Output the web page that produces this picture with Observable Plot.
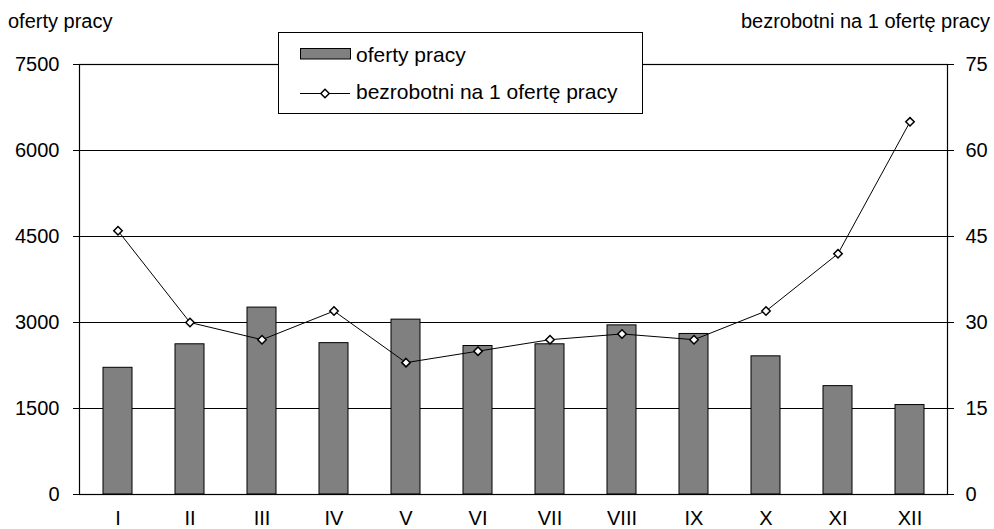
<!DOCTYPE html>
<html>
<head>
<meta charset="utf-8">
<script src="https://cdn.jsdelivr.net/npm/d3@7"></script>
<script src="https://cdn.jsdelivr.net/npm/@observablehq/plot@0.6"></script>
<style>
  html, body { margin: 0; padding: 0; background: #fff; }
  #wrap { position: relative; width: 994px; height: 529px; font-family: "Liberation Sans", Arial, sans-serif; }
  #wrap svg.overlay { position: absolute; left: 0; top: 0; pointer-events: none; }
</style>
</head>
<body>
<div id="wrap"></div>
<script>
const months = ["I", "II", "III", "IV", "V", "VI", "VII", "VIII", "IX", "X", "XI", "XII"];
const offers = [2210, 2620, 3260, 2640, 3050, 2590, 2620, 2950, 2800, 2410, 1890, 1560];
const unemployedPerOffer = [46, 30, 27, 32, 23, 25, 27, 28, 27, 32, 42, 65];
const leftTicks = [0, 1500, 3000, 4500, 6000, 7500];
const rightTicks = [0, 15, 30, 45, 60, 75];
const leftTitle = "oferty pracy";
const rightTitle = "bezrobotni na 1 ofertę pracy";
const seriesNames = ["oferty pracy", "bezrobotni na 1 ofertę pracy"];

const leftMax = leftTicks[leftTicks.length - 1];
const rightMax = rightTicks[rightTicks.length - 1];
const factor = leftMax / rightMax;

const data = months.map((m, i) => ({m, offers: offers[i], ratio: unemployedPerOffer[i]}));

const font = "Liberation Sans, Arial, sans-serif";

const chart = Plot.plot({
  width: 994,
  height: 529,
  marginLeft: 79,
  marginRight: 47,
  marginTop: 64,
  marginBottom: 35,
  style: {fontFamily: font, fontSize: "20px", color: "#000", background: "#fff", overflow: "visible"},
  x: {type: "band", domain: months, paddingInner: 0.6, paddingOuter: 0.3, axis: null},
  y: {domain: [0, leftMax], axis: null},
  marks: [
    Plot.ruleY(leftTicks, {stroke: "#000", strokeWidth: 1}),
    Plot.barY(data, {x: "m", y: "offers", fill: "#808080", stroke: "#000", strokeWidth: 1}),
    Plot.frame({stroke: "#000", strokeWidth: 1.2}),
    Plot.axisY(leftTicks, {anchor: "left", tickSize: 6, tickPadding: 14, fontSize: 20, tickFormat: d => String(d), label: null, stroke: "#000"}),
    Plot.axisY(rightTicks.map(v => v * factor), {anchor: "right", tickSize: 6, tickPadding: 12, fontSize: 20, tickFormat: d => String(Math.round(d / factor)), label: null, stroke: "#000"}),
    Plot.axisX({tickSize: 0, tickPadding: 16, fontSize: 20, label: null}),
    Plot.line(data, {x: "m", y: d => d.ratio * factor, stroke: "#000", strokeWidth: 1}),
    Plot.dot(data, {x: "m", y: d => d.ratio * factor, symbol: "diamond2", r: 3.8, fill: "#fff", stroke: "#000", strokeWidth: 1.5})
  ]
});
const wrap = document.getElementById("wrap");
wrap.appendChild(chart);

// Overlay: titles and legend
const ov = d3.select(wrap).append("svg").attr("class", "overlay")
  .attr("width", 994).attr("height", 529)
  .style("font-family", font);

ov.append("text").attr("x", 8).attr("y", 28).attr("font-size", 20).attr("fill", "#000").text(leftTitle);
ov.append("text").attr("x", 990).attr("y", 28).attr("text-anchor", "end").attr("font-size", 20).attr("fill", "#000").text(rightTitle);

const lg = ov.append("g");
lg.append("rect").attr("x", 278.5).attr("y", 32.5).attr("width", 364).attr("height", 81)
  .attr("fill", "#fff").attr("stroke", "#000").attr("stroke-width", 1);
lg.append("rect").attr("x", 300.5).attr("y", 48.5).attr("width", 50).attr("height", 10.5)
  .attr("fill", "#808080").attr("stroke", "#000").attr("stroke-width", 1);
lg.append("text").attr("x", 356).attr("y", 62).attr("font-size", 21).attr("fill", "#000").text(seriesNames[0]);
lg.append("line").attr("x1", 300).attr("x2", 350).attr("y1", 93.5).attr("y2", 93.5)
  .attr("stroke", "#000").attr("stroke-width", 1);
lg.append("path").attr("d", d3.symbol(d3.symbolDiamond2, Math.PI * 3.8 * 3.8)()).attr("transform", "translate(325,93.5)")
  .attr("fill", "#fff").attr("stroke", "#000").attr("stroke-width", 1.5);
lg.append("text").attr("x", 356).attr("y", 99).attr("font-size", 21).attr("fill", "#000").text(seriesNames[1]);
</script>
</body>
</html>
